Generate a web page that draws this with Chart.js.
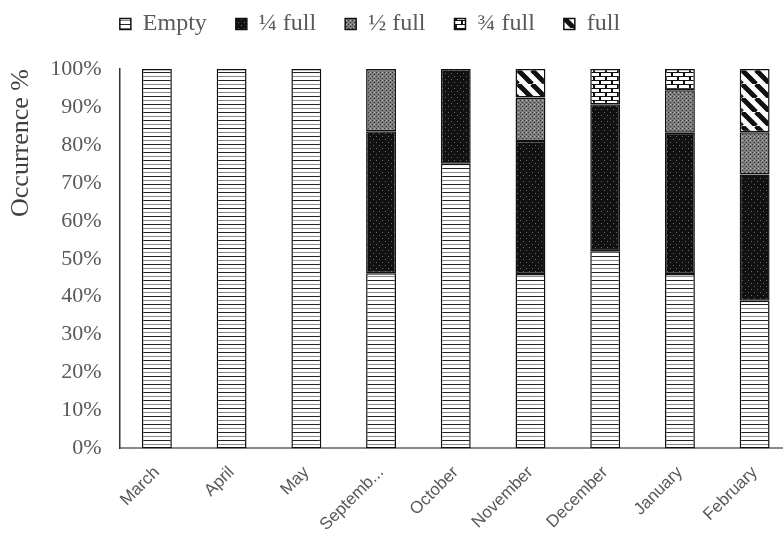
<!DOCTYPE html>
<html lang="en">
<head>
    <meta charset="UTF-8">
    <title>Occurrence by month</title>
    <script src="https://cdn.jsdelivr.net/npm/chart.js"></script>
    <style>
        body { margin: 0; overflow: hidden; background: #fff; }
        .chart-container { width: 800px; height: 533px; }
    </style>
</head>
<body>
    <div class="chart-container">
        <canvas id="fillChart"></canvas>
    </div>

    <script>
        const months = ["March", "April", "May", "September", "October", "November", "December", "January", "February"];
        const seriesNames = ["Empty", "\u00BC full", "\u00BD full", "\u00BE full", "full"];
        const emptyPct   = [100, 100, 100, 46.2, 75, 46, 52, 46, 38.9];
        const quarterPct = [0, 0, 0, 37.4, 25, 35, 38.7, 37.2, 33.3];
        const halfPct    = [0, 0, 0, 16.4, 0, 11.5, 0, 11.2, 11.1];
        const threeQPct  = [0, 0, 0, 0, 0, 0, 9.3, 5.6, 0];
        const fullPct    = [0, 0, 0, 0, 0, 7.5, 0, 0, 16.7];
        const yTicks = [0, 10, 20, 30, 40, 50, 60, 70, 80, 90, 100];

        // small tiles used as fill patterns
        function makePattern(w, h, drawFn) {
            const c = document.createElement("canvas");
            c.width = w;
            c.height = h;
            const g = c.getContext("2d");
            drawFn(g);
            return document.createElement("canvas").getContext("2d").createPattern(c, "repeat");
        }

        const emptyFill = makePattern(8, 8, g => {
            g.fillStyle = "#fff";
            g.fillRect(0, 0, 8, 8);
            g.fillStyle = "#222";
            g.fillRect(0, 0, 8, 1);
            g.fillStyle = "#888";
            g.fillRect(0, 4, 8, 1);
        });
        const quarterFill = makePattern(6, 6, g => {
            g.fillStyle = "#111";
            g.fillRect(0, 0, 6, 6);
            g.fillStyle = "#6a6a6a";
            g.fillRect(1, 1, 1, 1);
            g.fillRect(4, 4, 1, 1);
        });
        const halfFill = makePattern(4, 4, g => {
            g.fillStyle = "#7c7c7c";
            g.fillRect(0, 0, 4, 4);
            g.fillStyle = "#333";
            g.fillRect(0, 0, 1, 1);
            g.fillRect(2, 2, 1, 1);
            g.fillStyle = "#bdbdbd";
            g.fillRect(2, 0, 1, 1);
        });
        const threeQFill = makePattern(12, 8, g => {
            g.fillStyle = "#111";
            g.fillRect(0, 0, 12, 8);
            g.fillStyle = "#fff";
            g.fillRect(1, 1, 10, 3);
            g.fillRect(0, 5, 5, 3);
            g.fillRect(7, 5, 5, 3);
        });
        const fullFill = makePattern(14, 14, g => {
            g.fillStyle = "#fff";
            g.fillRect(0, 0, 14, 14);
            g.strokeStyle = "#111";
            g.lineWidth = 5;
            for (const o of [-14, 0, 14]) {
                g.beginPath();
                g.moveTo(o, 0);
                g.lineTo(o + 14, 14);
                g.stroke();
            }
        });

        // shift the legend so it is centred over the visible part like the original
        const legendShift = {
            id: "legendShift",
            afterLayout(chart) {
                const lg = chart.legend;
                lg.right = lg.left + 740;
                lg.top -= 23;
            }
        };

        const ctx = document.getElementById("fillChart").getContext("2d");
        const fills = [emptyFill, quarterFill, halfFill, threeQFill, fullFill];
        const values = [emptyPct, quarterPct, halfPct, threeQPct, fullPct];

        new Chart(ctx, {
            type: "bar",
            data: {
                labels: months,
                datasets: seriesNames.map((name, i) => ({
                    label: name,
                    data: values[i],
                    backgroundColor: fills[i],
                    borderColor: "#111",
                    borderWidth: 1.5,
                    borderSkipped: false,
                    barPercentage: 0.4,
                    categoryPercentage: 1
                }))
            },
            options: {
                responsive: true,
                maintainAspectRatio: false,
                animation: false,
                layout: {
                    padding: { left: 0, right: 8, top: 6, bottom: -8 }
                },
                plugins: {
                    legend: {
                        position: "top",
                        labels: {
                            boxWidth: 11,
                            boxHeight: 11,
                            padding: 29,
                            color: "#595959",
                            font: { family: "Liberation Serif", size: 24 }
                        }
                    },
                    tooltip: { enabled: false }
                },
                scales: {
                    x: {
                        stacked: true,
                        grid: { display: false },
                        border: { color: "#8a8a8a", width: 2 },
                        ticks: {
                            color: "#595959",
                            maxRotation: 45,
                            minRotation: 45,
                            padding: 6,
                            font: { family: "Liberation Sans", size: 17 },
                            callback: function (v) {
                                const s = this.getLabelForValue(v);
                                return s.length > 8 ? s.slice(0, 7) + "..." : s;
                            }
                        }
                    },
                    y: {
                        stacked: true,
                        min: 0,
                        max: 100,
                        afterBuildTicks: axis => {
                            axis.ticks = yTicks.map(v => ({ value: v }));
                        },
                        grid: { display: false },
                        border: { color: "#333", width: 1.5 },
                        ticks: {
                            color: "#595959",
                            padding: 10,
                            font: { family: "Liberation Serif", size: 22 },
                            callback: v => v + "%"
                        },
                        title: {
                            display: true,
                            text: "Occurrence %",
                            align: "end",
                            color: "#404040",
                            font: { family: "Liberation Serif", size: 26 },
                            padding: { top: 6, bottom: 3 }
                        }
                    }
                }
            },
            plugins: [legendShift]
        });
    </script>
</body>
</html>
